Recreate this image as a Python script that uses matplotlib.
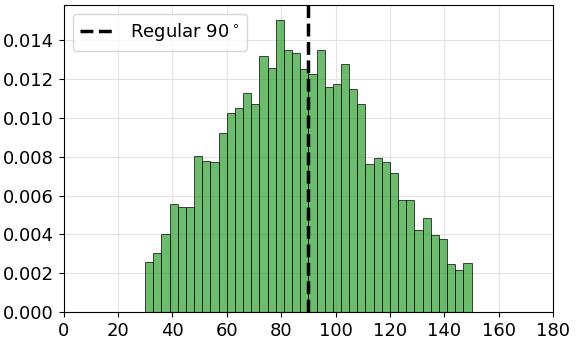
import numpy as np
import matplotlib
matplotlib.use("Agg")
import matplotlib.pyplot as plt

# --- DATA ---
bin_edges = np.arange(30, 151, 3)
density = [0.00258, 0.00306, 0.00404, 0.00558, 0.00541, 0.00541, 0.00802, 0.00778,
           0.00773, 0.00923, 0.01026, 0.01053, 0.01129, 0.01072, 0.01320, 0.01259,
           0.01507, 0.01352, 0.01337, 0.01254, 0.01225, 0.01352, 0.01158, 0.01177,
           0.01280, 0.01148, 0.01072, 0.00765, 0.00792, 0.00773, 0.00716, 0.00577,
           0.00577, 0.00421, 0.00486, 0.00399, 0.00378, 0.00249, 0.00215, 0.00254]
regular_angle = 90

# --- PLOT ---
fig = plt.figure(figsize=(5.78, 3.42), dpi=100)
ax = fig.add_axes([0.110, 0.088, 0.847, 0.897])
ax.grid(True, color="#e3e3e3", linewidth=0.8)
ax.set_axisbelow(True)

ax.hist(bin_edges[:-1], bins=bin_edges, weights=density,
        color="tab:green", alpha=0.7, edgecolor="black", linewidth=0.7)
ax.axvline(regular_angle, color="black", linestyle="--", linewidth=2.5,
           label=r"Regular 90$^\circ$")

ax.set_xlim(0, 180)
ax.set_ylim(bottom=0)
ax.set_xticks(np.arange(0, 181, 20))
ax.set_yticks(np.arange(0, 0.0141, 0.002))
ax.tick_params(labelsize=13)
ax.legend(loc="upper left", fontsize=13)

fig.savefig("out.png", dpi=100)
